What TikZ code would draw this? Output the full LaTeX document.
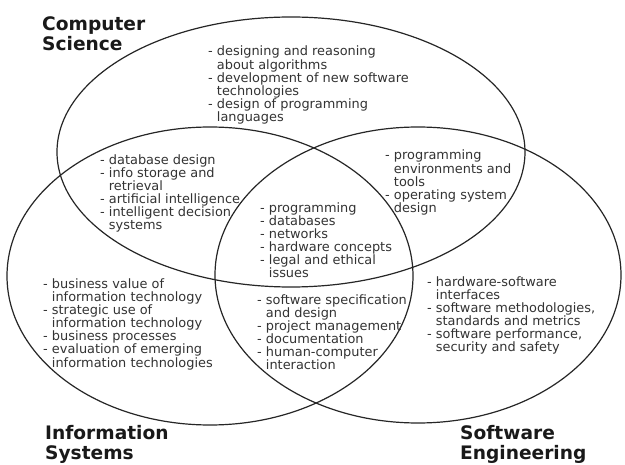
\documentclass[tikz,border=0pt]{standalone}
\usepackage{fontspec}
\newfontfamily\dv{DejaVu Sans}
\begin{document}
\begin{tikzpicture}[x=1pt,y=-1pt,
  ring/.style={draw=black!85,line width=1.2pt},
  body/.style={font=\dv\fontsize{12.9}{13.2}\selectfont,text=black!80,align=left,inner sep=0pt,anchor=north west},
  title/.style={font=\dv\bfseries\fontsize{18.6}{20}\selectfont,text=black!90,align=left,inner sep=0pt,anchor=north west}]
\useasboundingbox[fill=white] (0,0) rectangle (625,465);
\newcommand{\ind}{\phantom{- }}
% ellipses
\draw[ring] (291,152) ellipse [x radius=234pt, y radius=135pt];
\draw[ring] (210,276) ellipse [x radius=203pt, y radius=149pt];
\draw[ring] (418,275) ellipse [x radius=203pt, y radius=148pt];
% titles
\node[title] (cs) at (42,16) {Computer\\Science};
\node[title] (is) at (45,425) {Information\\Systems};
\node[title] (se) at (460,425) {Software\\Engineering};
% texts
\node[body] (tcs) at (208,46) {- designing and reasoning\\\ind about algorithms\\- development of new software\\\ind technologies\\- design of programming\\\ind languages};
\node[body] (tcsis) at (100,154) {- database design\\- info storage and\\\ind retrieval\\- artificial intelligence\\- intelligent decision\\\ind systems};
\node[body] (tcsse) at (385,150) {- programming\\\ind environments and\\\ind tools\\- operating system\\\ind design};
\node[body] (tall) at (260,202) {- programming\\- databases\\- networks\\- hardware concepts\\- legal and ethical\\\ind issues};
\node[body] (tisse) at (257,294) {- software specification\\\ind and design\\- project management\\- documentation\\- human-computer\\\ind interaction};
\node[body] (tis) at (43,278) {- business value of\\\ind information technology\\- strategic use of\\\ind information technology\\- business processes\\- evaluation of emerging\\\ind information technologies};
\node[body] (tse) at (427,276) {- hardware-software\\\ind interfaces\\- software methodologies,\\\ind standards and metrics\\- software performance,\\\ind security and safety};
\end{tikzpicture}
\end{document}
